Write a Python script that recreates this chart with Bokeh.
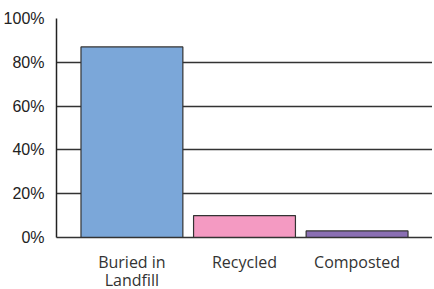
from bokeh.plotting import figure
from bokeh.models import FactorRange, FixedTicker, PrintfTickFormatter, ColumnDataSource
from bokeh.embed import file_html
from bokeh.resources import INLINE

categories = ["Buried in\nLandfill", "Recycled", "Composted"]
values = [87, 10, 3]
colors = ["#7BA7D9", "#F49AC2", "#8A6FB3"]
y_ticks = [0, 20, 40, 60, 80, 100]

src = ColumnDataSource(dict(cat=categories, val=values, col=colors))

p = figure(x_range=FactorRange(*categories, range_padding=0.17, range_padding_units="absolute"),
           y_range=(0, 100), frame_width=376, frame_height=219,
           output_backend="svg", toolbar_location=None,
           min_border_left=51, min_border_right=0, min_border_top=18, min_border_bottom=0)
p.vbar(x="cat", top="val", width=0.905, source=src, fill_color="col",
       line_color="#333333", line_width=1.2)

p.outline_line_color = None
p.background_fill_color = "white"
p.xgrid.grid_line_color = None
p.ygrid.ticker = FixedTicker(ticks=y_ticks)
p.ygrid.grid_line_color = "#333333"
p.ygrid.grid_line_width = 1.5
p.ygrid.level = "underlay"

p.yaxis.ticker = FixedTicker(ticks=y_ticks)
p.yaxis.formatter = PrintfTickFormatter(format="%d%%")
p.yaxis.axis_line_color = "#222222"
p.yaxis.axis_line_width = 1.5
p.yaxis.major_tick_line_color = None
p.yaxis.minor_tick_line_color = None
p.yaxis.major_label_standoff = 6
p.yaxis.major_label_text_font = "Liberation Sans"
p.yaxis.major_label_text_font_size = "16px"
p.yaxis.major_label_text_color = "#222222"

p.xaxis.axis_line_color = "#333333"
p.xaxis.axis_line_width = 1.5
p.xaxis.major_tick_line_color = None
p.xaxis.minor_tick_line_color = None
p.xaxis.major_label_standoff = 7
p.xaxis.major_label_text_font = "Open Sans"
p.xaxis.major_label_text_font_size = "16px"
p.xaxis.major_label_text_line_height = 0.82
p.xaxis.major_label_text_color = "#333333"

open("out.html", "w").write(file_html(p, INLINE))
